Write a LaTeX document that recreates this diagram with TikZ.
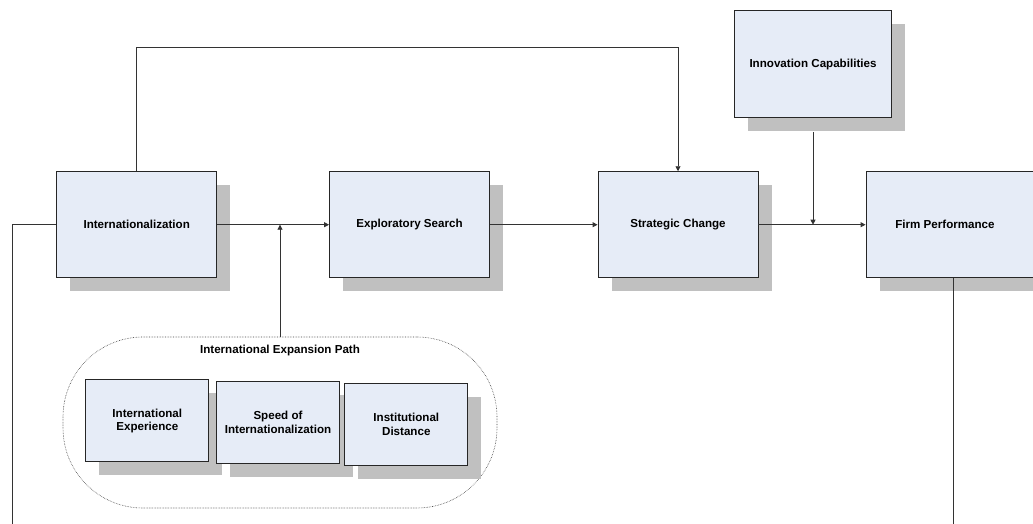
\documentclass[tikz,border=0pt]{standalone}
\usepackage{fontspec}
\setmainfont{Liberation Sans}
\usetikzlibrary{arrows.meta,shadows}
\definecolor{boxfill}{HTML}{E6ECF7}
\definecolor{shade}{HTML}{C0C0C0}
\tikzset{
  box/.style={draw=black!85, line width=0.9pt, fill=boxfill,
    font=\fontsize{11.6}{13.5}\selectfont\bfseries, align=center, inner sep=0pt,
    general shadow={fill=shade, shadow xshift=13.5pt, shadow yshift=-13.5pt}},
  bigbox/.style={box, minimum width=160pt, minimum height=106pt},
  smallbox/.style={box, minimum width=123pt, minimum height=82pt},
  conn/.style={draw=black!80, line width=0.9pt},
  arr/.style={conn, -{Triangle[length=5pt,width=5pt]}},
  grp/.style={draw=black!75, densely dotted, line width=0.6pt, rounded corners=80pt,
    minimum width=434pt, minimum height=171pt},
  ttl/.style={font=\fontsize{11.6}{13.5}\selectfont\bfseries}
}
\begin{document}
\begin{tikzpicture}[x=1pt,y=-1pt]
\useasboundingbox (0,0) rectangle (1033,524);
\clip (0,0) rectangle (1033,524);
% main boxes
\node[bigbox] (intl) at (136.7,224.7) {Internationalization};
\node[bigbox] (expl) at (409.5,224.7) {Exploratory Search};
\node[bigbox] (strat) at (678,224.7) {Strategic Change};
\node[bigbox, minimum width=180pt, label={[ttl, xshift=-11pt]center:Firm Performance}] (firm) at (956,224.7) {};
\node[box, minimum width=157.4pt, minimum height=107.3pt] (innov) at (813,64.3) {Innovation Capabilities};
% expansion path group
\node[grp] (exp) at (280,422.5) {};
\node[ttl] (exptitle) at (280,350) {International Expansion Path};
\node[smallbox] (ie) at (147.3,420.8) {International\\Experience};
\node[smallbox] (speed) at (278,422.5) {Speed of\\Internationalization};
\node[smallbox] (dist) at (406.3,424.2) {Institutional\\Distance};
% free ends
\coordinate (lend) at (12,524);
\coordinate (rend) at (953.7,524);
% connectors
\draw[arr] (intl.east) -- (expl.west);
\draw[arr] (expl.east) -- (strat.west);
\draw[arr] (strat.east) -- (firm.west);
\draw[arr] (intl.north) -- ++(0,-123.7) -| (strat.north);
\draw[arr] ([yshift=-13.5pt]innov.south) -- (innov.south |- strat.east);
\draw[arr] (exp.north) -- (exp.north |- intl.east);
\draw[conn] (intl.west) -| (lend);
\draw[conn] (firm.south -| rend) -- (rend);
\end{tikzpicture}
\end{document}
